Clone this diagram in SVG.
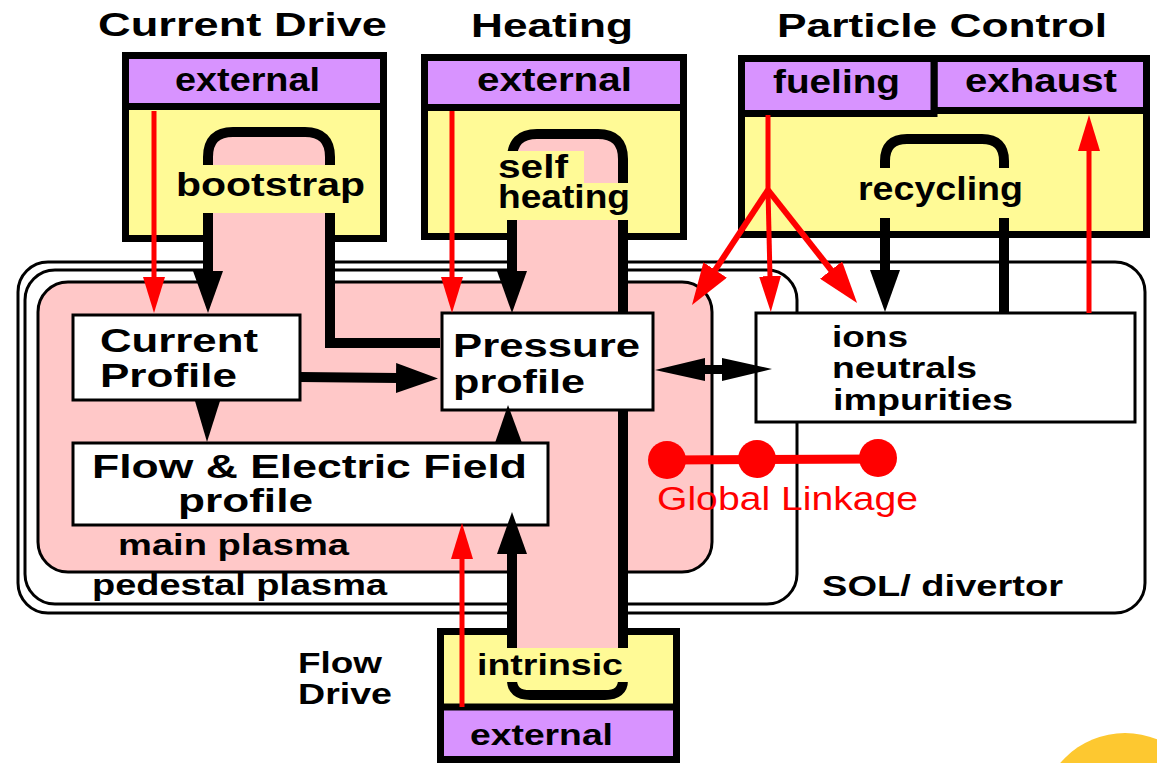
<svg xmlns="http://www.w3.org/2000/svg" width="1157" height="763" viewBox="0 0 1157 763">
<style>
text{font-family:"Liberation Sans",Arial,Helvetica,sans-serif;font-weight:bold;fill:#000}
.t33{font-size:33px}
.t34{font-size:34px}
.t30{font-size:30px}
.t29{font-size:29px}
.mod{fill:#FFFA96;stroke:#000;stroke-width:7}
.ext{fill:#D893FF;stroke:#000;stroke-width:7}
.node{fill:#fff;stroke:#000;stroke-width:3}
.cont{fill:#fff;stroke:#000;stroke-width:3}
.main{fill:#FFC8C8;stroke:#000;stroke-width:3}
.pink{fill:#FFC8C8}
.bl{fill:none;stroke:#000;stroke-width:10}
.rd{fill:none;stroke:#f00;stroke-width:5}
.rd6{fill:none;stroke:#f00;stroke-width:6}
.lab{fill:#FFFA96}
.red{fill:#f00}
</style>
<defs>
<marker id="ab" markerUnits="userSpaceOnUse" markerWidth="42" markerHeight="30" viewBox="0 0 42 30" refX="2" refY="15" orient="auto"><path d="M0,0 L42,15 L0,30 z" fill="#000"/></marker>
<marker id="ar" markerUnits="userSpaceOnUse" markerWidth="36" markerHeight="22" viewBox="0 0 36 22" refX="1" refY="11" orient="auto"><path d="M0,0 L36,11 L0,22 z" fill="#f00"/></marker>
<marker id="ar2" markerUnits="userSpaceOnUse" markerWidth="42" markerHeight="28" viewBox="0 0 42 28" refX="1" refY="14" orient="auto"><path d="M0,0 L42,14 L0,28 z" fill="#f00"/></marker>
</defs>
<rect width="1157" height="763" fill="#fff"/>

<!-- containers -->
<g id="sol-divertor">
<rect class="cont" x="18" y="262" width="1127" height="351" rx="30"/>
<text class="t29" x="822" y="596" textLength="241" lengthAdjust="spacingAndGlyphs">SOL/ divertor</text>
</g>
<g id="pedestal-plasma">
<rect class="cont" x="25" y="270" width="772" height="334" rx="30"/>
<text class="t29" x="92" y="595" textLength="295" lengthAdjust="spacingAndGlyphs">pedestal plasma</text>
</g>
<g id="main-plasma">
<rect class="main" x="38" y="282" width="674" height="290" rx="30"/>
<text class="t29" x="118" y="555" textLength="231" lengthAdjust="spacingAndGlyphs">main plasma</text>
</g>

<!-- module boxes -->
<g id="current-drive">
<rect class="mod" x="125.5" y="55.5" width="258" height="183"/>
<rect class="ext" x="125.5" y="55.5" width="258" height="51"/>
<text class="t33" x="98" y="36" textLength="289" lengthAdjust="spacingAndGlyphs">Current Drive</text>
<text class="t33" x="175" y="91" textLength="145" lengthAdjust="spacingAndGlyphs">external</text>
</g>
<g id="heating">
<rect class="mod" x="424.5" y="57.5" width="259" height="179"/>
<rect class="ext" x="424.5" y="57.5" width="259" height="50"/>
<text class="t33" x="471" y="37" textLength="162" lengthAdjust="spacingAndGlyphs">Heating</text>
<text class="t33" x="477" y="91" textLength="155" lengthAdjust="spacingAndGlyphs">external</text>
</g>
<g id="particle-control">
<rect class="mod" x="741.5" y="58.5" width="405" height="176"/>
<rect class="ext" x="934" y="58.5" width="212.5" height="52"/>
<rect class="ext" x="741.5" y="58.5" width="192.5" height="55"/>
<text class="t33" x="777" y="37" textLength="330" lengthAdjust="spacingAndGlyphs">Particle Control</text>
<text class="t33" x="773" y="93" textLength="127" lengthAdjust="spacingAndGlyphs">fueling</text>
<text class="t33" x="965" y="92" textLength="152" lengthAdjust="spacingAndGlyphs">exhaust</text>
</g>
<g id="flow-drive">
<rect class="mod" x="440.5" y="631.5" width="236" height="128"/>
<rect class="ext" x="440.5" y="707" width="236" height="52.5"/>
<text class="t29" x="298" y="673" textLength="84" lengthAdjust="spacingAndGlyphs">Flow</text>
<text class="t29" x="298" y="704" textLength="94" lengthAdjust="spacingAndGlyphs">Drive</text>
<text class="t30" x="470" y="745" textLength="143" lengthAdjust="spacingAndGlyphs">external</text>
</g>

<!-- feedback loops (channels) -->
<g id="loops">
<path class="pink" d="M208,285 L208,157 Q208,132 233,132 L305,132 Q330,132 330,157 L330,285 Z"/>
<path class="pink" d="M512,650 L512,159 Q512,134 537,134 L598,134 Q623,134 623,159 L623,650 Z"/>
<path class="bl" d="M208,273 L208,157 Q208,132 233,132 L305,132 Q330,132 330,157 L330,343 L440,343"/>
<path class="bl" d="M512,273 L512,159 Q512,134 537,134 L598,134 Q623,134 623,159 L623,650"/>
<path class="bl" d="M512,552 L512,680 Q512,695 530,695 L605,695 Q623,695 623,680 L623,640"/>
<path class="bl" d="M885,272 L885,161 Q885,139 907,139 L982,139 Q1004,139 1004,161 L1004,313"/>
<rect class="lab" x="200" y="165" width="140" height="48"/>
<rect class="lab" x="500" y="151" width="84" height="32"/>
<rect class="lab" x="497" y="183" width="135" height="37"/>
<rect class="lab" x="875" y="168" width="140" height="50"/>
<rect class="lab" x="500" y="648" width="130" height="34"/>
<text class="t33" x="176" y="196" textLength="189" lengthAdjust="spacingAndGlyphs">bootstrap</text>
<text class="t33" x="498" y="178" textLength="70" lengthAdjust="spacingAndGlyphs">self</text>
<text class="t33" x="498" y="208" textLength="132" lengthAdjust="spacingAndGlyphs">heating</text>
<text class="t33" x="858" y="200" textLength="165" lengthAdjust="spacingAndGlyphs">recycling</text>
<text class="t30" x="477" y="675" textLength="146" lengthAdjust="spacingAndGlyphs">intrinsic</text>
</g>

<!-- nodes -->
<g id="current-profile">
<rect class="node" x="73" y="315" width="227" height="85"/>
<text class="t34" x="100" y="352" textLength="158" lengthAdjust="spacingAndGlyphs">Current</text>
<text class="t34" x="100" y="387" textLength="137" lengthAdjust="spacingAndGlyphs">Profile</text>
</g>
<g id="pressure-profile">
<rect class="node" x="442" y="313" width="211" height="97"/>
<text class="t34" x="453" y="357" textLength="187" lengthAdjust="spacingAndGlyphs">Pressure</text>
<text class="t34" x="453" y="393" textLength="132" lengthAdjust="spacingAndGlyphs">profile</text>
</g>
<g id="flow-profile">
<rect class="node" x="73" y="443" width="475" height="82"/>
<text class="t34" x="92" y="478" textLength="435" lengthAdjust="spacingAndGlyphs">Flow &amp; Electric Field</text>
<text class="t34" x="178" y="512" textLength="135" lengthAdjust="spacingAndGlyphs">profile</text>
</g>
<g id="species">
<rect class="node" x="756" y="313" width="379" height="109"/>
<text class="t30" x="832" y="347" textLength="76" lengthAdjust="spacingAndGlyphs">ions</text>
<text class="t30" x="832" y="378" textLength="145" lengthAdjust="spacingAndGlyphs">neutrals</text>
<text class="t30" x="833" y="410" textLength="180" lengthAdjust="spacingAndGlyphs">impurities</text>
</g>

<!-- connectors -->
<g id="connectors">
<path class="bl" marker-end="url(#ab)" d="M208,230 L208,273"/>
<path class="bl" marker-end="url(#ab)" d="M512,240 L512,273"/>
<path class="bl" marker-end="url(#ab)" d="M885,240 L885,272"/>
<path class="bl" marker-end="url(#ab)" d="M512,600 L512,552"/>
<path class="bl" marker-end="url(#ab)" d="M300,377 L398,378"/>
<polygon points="195,401 220,401 207,442"/>
<polygon points="495,443 522,443 508,405"/>
<polygon points="655,370 705,358 705,381"/>
<rect x="703" y="365" width="21" height="9"/>
<polygon points="722,358 772,369 722,381"/>
<path class="rd" marker-end="url(#ar)" d="M154,111 L154,278"/>
<path class="rd" marker-end="url(#ar)" d="M452,111 L452,278"/>
<path class="rd" d="M768,115 L768,192"/>
<path class="rd" marker-end="url(#ar)" d="M768,190 L770,277"/>
<path class="rd6" marker-end="url(#ar2)" d="M768,190 L714.6,270.8"/>
<path class="rd6" marker-end="url(#ar2)" d="M768,190 L831.7,270.8"/>
<path class="rd" marker-end="url(#ar)" d="M1089,313 L1089,150"/>
<path class="rd" marker-end="url(#ar)" d="M462,707 L462,558"/>
</g>

<g id="global-linkage">
<line x1="667" y1="460" x2="878" y2="459" stroke="#f00" stroke-width="9"/>
<circle class="red" cx="667" cy="460" r="19"/>
<circle class="red" cx="757" cy="459" r="19"/>
<circle class="red" cx="878" cy="458" r="19"/>
<text x="657" y="510" style="font-size:34px;font-weight:normal;fill:#f00" textLength="261" lengthAdjust="spacingAndGlyphs">Global Linkage</text>
</g>

<circle cx="1125" cy="818" r="85" fill="#FDC830"/>
</svg>
